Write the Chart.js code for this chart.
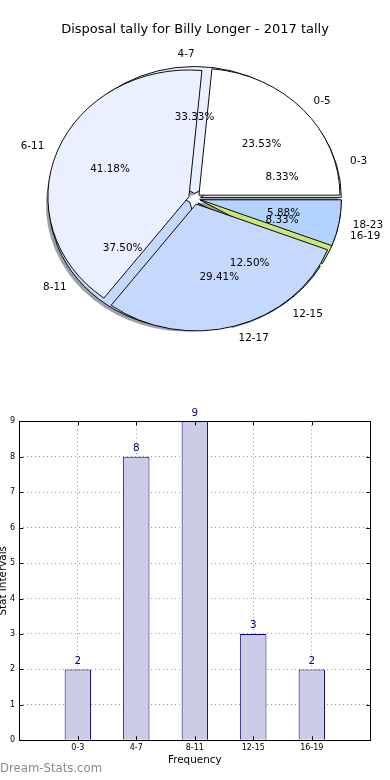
<!DOCTYPE html>
<html><head><meta charset="utf-8">
<script src="https://cdn.jsdelivr.net/npm/chart.js@4.4.1/dist/chart.umd.min.js"></script>
<style>
html,body{margin:0;padding:0;background:#fff;width:390px;height:780px;overflow:hidden;}
.box{position:absolute;left:0;}
</style></head><body>
<div class="box" style="top:0;width:390px;height:390px"><canvas id="pie1" width="390" height="390"></canvas></div>
<div class="box" style="top:0;width:390px;height:390px"><canvas id="pie2" width="390" height="390"></canvas></div>
<div class="box" style="top:400px;width:390px;height:380px"><canvas id="bars" width="390" height="380"></canvas></div>
<script>
// ---- data ----
const chartTitle = 'Disposal tally for Billy Longer - 2017 tally';
const binLabels = ['0-3', '4-7', '8-11', '12-15', '16-19'];
const binCounts = [2, 8, 9, 3, 2];
const wideLabels = ['0-5', '6-11', '12-17', '18-23'];
const wideCounts = [4, 7, 5, 1];
const xAxisTitle = 'Frequency';
const yAxisTitle = 'Stat Intervals';
const watermark = 'Dream-Stats.com';
// ---- styles ----
const palette = ['#ffffff', '#eaf0ff', '#c5d9ff', '#b3d4ff', '#cde67a'];
const FONT = "'DejaVu Sans', sans-serif";
const SY = 0.9;        // pie drawn as ellipse (non-equal aspect)
const EXPLODE = 6;     // wedge explode distance, px

// explode wedges by a plain translation along the mid angle
const baseArcDraw = Chart.ArcElement.prototype.draw;
Chart.ArcElement.prototype.draw = function (ctx) {
  const mid = (this.startAngle + this.endAngle) / 2;
  ctx.save();
  ctx.translate(Math.cos(mid) * EXPLODE, Math.sin(mid) * EXPLODE);
  baseArcDraw.call(this, ctx);
  ctx.restore();
};

function shade(hex) {
  const n = parseInt(hex.slice(1), 16);
  const r = (n >> 16) & 255, g = (n >> 8) & 255, b = n & 255;
  return 'rgba(' + Math.round(r * 0.3) + ',' + Math.round(g * 0.3) + ',' + Math.round(b * 0.3) + ',0.5)';
}

const ellipse = {
  id: 'ellipse',
  beforeDatasetsDraw(chart) {
    const a = chart.chartArea, ctx = chart.ctx;
    const cx = (a.left + a.right) / 2, cy = (a.top + a.bottom) / 2;
    ctx.save();
    ctx.translate(cx, cy); ctx.scale(1, SY); ctx.translate(-cx, -cy);
    if (chart.canvas.id === 'pie1') {
      const meta = chart.getDatasetMeta(0);
      const ds = chart.data.datasets[0];
      meta.data.forEach((arc, i) => {
        const mid = (arc.startAngle + arc.endAngle) / 2;
        const d = arc.outerRadius * 0.02;
        const ox = arc.x + Math.cos(mid) * EXPLODE - d;
        const oy = arc.y + Math.sin(mid) * EXPLODE + d;
        ctx.beginPath();
        ctx.moveTo(ox, oy);
        ctx.arc(ox, oy, arc.outerRadius, arc.startAngle, arc.endAngle);
        ctx.closePath();
        ctx.fillStyle = shade(ds.backgroundColor[i]);
        ctx.fill();
      });
    }
  },
  afterDatasetsDraw(chart) { chart.ctx.restore(); }
};

function pieText(chart, ctx, cats, vals) {
  const meta = chart.getDatasetMeta(0);
  const total = vals.reduce((a, b) => a + b, 0);
  ctx.fillStyle = '#000';
  ctx.textBaseline = 'middle';
  meta.data.forEach((arc, i) => {
    const k = cats.length - 1 - i;
    const mid = (arc.startAngle + arc.endAngle) / 2;
    const R = arc.outerRadius;
    const c = Math.cos(mid), s = Math.sin(mid);
    const cx = arc.x + c * EXPLODE;
    const cy = arc.y + s * EXPLODE * SY;
    ctx.font = '10.4px ' + FONT;
    ctx.textAlign = 'center';
    ctx.fillText((vals[k] / total * 100).toFixed(2) + '%', cx + 0.6 * R * c, cy + 0.6 * R * SY * s);
    ctx.textAlign = c > 1e-6 ? 'left' : 'right';
    ctx.fillText(cats[k], cx + 1.1 * R * c, cy + 1.1 * R * SY * s);
  });
}

let pieA = null;
const pieLabels = {
  id: 'pieLabels',
  afterDraw(chart) {
    const ctx = chart.ctx;
    ctx.save();
    if (pieA) pieText(pieA, ctx, binLabels, binCounts);
    pieText(chart, ctx, wideLabels, wideCounts);
    ctx.font = '13px ' + FONT;
    ctx.fillStyle = '#000';
    ctx.textAlign = 'center';
    ctx.textBaseline = 'middle';
    ctx.fillText(chartTitle, chart.width / 2, 30);
    ctx.restore();
  }
};

function pieConfig(labels, values, plugins) {
  return {
    type: 'pie',
    data: {
      labels: labels.slice().reverse(),
      datasets: [{
        data: values.slice().reverse(),
        backgroundColor: palette.slice(0, values.length).reverse(),
        borderColor: '#000', borderWidth: 1,
        offset: 0, hoverOffset: 0, clip: false
      }]
    },
    options: {
      responsive: false, animation: false, events: [],
      rotation: 90,
      layout: { padding: { left: 53, right: 54, top: 57.3, bottom: 49.7 } },
      plugins: { legend: { display: false }, tooltip: { enabled: false }, title: { display: false } }
    },
    plugins: plugins
  };
}

pieA = new Chart(document.getElementById('pie1'), pieConfig(binLabels, binCounts, [ellipse]));
new Chart(document.getElementById('pie2'), pieConfig(wideLabels, wideCounts, [ellipse, pieLabels]));

// ---- bar chart ----
const barDeco = {
  id: 'barDeco',
  afterDatasetsDraw(chart) {
    const ctx = chart.ctx;
    ctx.save();
    ctx.fillStyle = '#000080';
    ctx.font = '10.4px ' + FONT;
    ctx.textAlign = 'center';
    ctx.textBaseline = 'alphabetic';
    chart.getDatasetMeta(0).data.forEach((bar, i) => {
      ctx.fillText(String(binCounts[i]), bar.x, bar.y - 5.5);
    });
    ctx.restore();
  },
  afterDraw(chart) {
    const ctx = chart.ctx, a = chart.chartArea;
    const xs = chart.scales.x, ys = chart.scales.y;
    ctx.save();
    ctx.strokeStyle = '#000';
    ctx.lineWidth = 1;
    ctx.beginPath();
    binLabels.forEach((l, i) => {
      const x = Math.round(xs.getPixelForValue(i)) + 0.5;
      ctx.moveTo(x, a.bottom); ctx.lineTo(x, a.bottom - 4);
      ctx.moveTo(x, a.top); ctx.lineTo(x, a.top + 4);
    });
    ys.ticks.forEach(t => {
      const y = Math.round(ys.getPixelForValue(t.value)) + 0.5;
      ctx.moveTo(a.left, y); ctx.lineTo(a.left + 4, y);
      ctx.moveTo(a.right, y); ctx.lineTo(a.right - 4, y);
    });
    ctx.stroke();
    ctx.strokeRect(Math.round(a.left) + 0.5, Math.round(a.top) + 0.5, Math.round(a.right - a.left), Math.round(a.bottom - a.top));
    ctx.fillStyle = '#8a8a8a';
    ctx.font = '11.7px ' + FONT;
    ctx.textAlign = 'left';
    ctx.textBaseline = 'middle';
    ctx.fillText(watermark, 0, chart.height - 11);
    ctx.restore();
  }
};

new Chart(document.getElementById('bars'), {
  type: 'bar',
  data: {
    datasets: [{
      data: binCounts.map((v, i) => ({ x: i, y: v })),
      backgroundColor: '#ccccE6',
      borderColor: '#000080',
      borderWidth: 1,
      barPercentage: 0.45,
      categoryPercentage: 1
    }]
  },
  options: {
    responsive: false, animation: false, events: [],
    layout: { padding: { left: 0, right: 19.7, top: 21.3, bottom: 0 } },
    plugins: { legend: { display: false }, tooltip: { enabled: false } },
    scales: {
      x: {
        type: 'linear', min: -1, max: 5, offset: false, z: 1,
        afterBuildTicks(s) { s.ticks = [-1, 0, 1, 2, 3, 4, 5].map(v => ({ value: v })); },
        afterFit(s) { s.height = 39.7; },
        ticks: {
          autoSkip: false, maxRotation: 0, padding: 3, color: '#000',
          font: { family: FONT, size: 8 },
          callback: (v) => (binLabels[v] !== undefined ? binLabels[v] : '')
        },
        grid: { color: '#9a9a9a', lineWidth: 1, drawTicks: false, offset: false },
        border: { display: false, dash: [1, 3] },
        title: { display: true, text: xAxisTitle, color: '#000', font: { family: FONT, size: 10.4 }, padding: { top: 0, bottom: 13.7 } }
      },
      y: {
        min: 0, max: 9, z: 1,
        afterFit(s) { s.width = 19.3; },
        ticks: { stepSize: 1, padding: 4.3, color: '#000', font: { family: FONT, size: 8 } },
        grid: { color: '#9a9a9a', lineWidth: 1, drawTicks: false },
        border: { display: false, dash: [1, 3] },
        title: { display: true, text: yAxisTitle, color: '#000', font: { family: FONT, size: 10.4 }, padding: { top: -3.2, bottom: 0 } }
      }
    }
  },
  plugins: [barDeco]
});
</script>
</body></html>
